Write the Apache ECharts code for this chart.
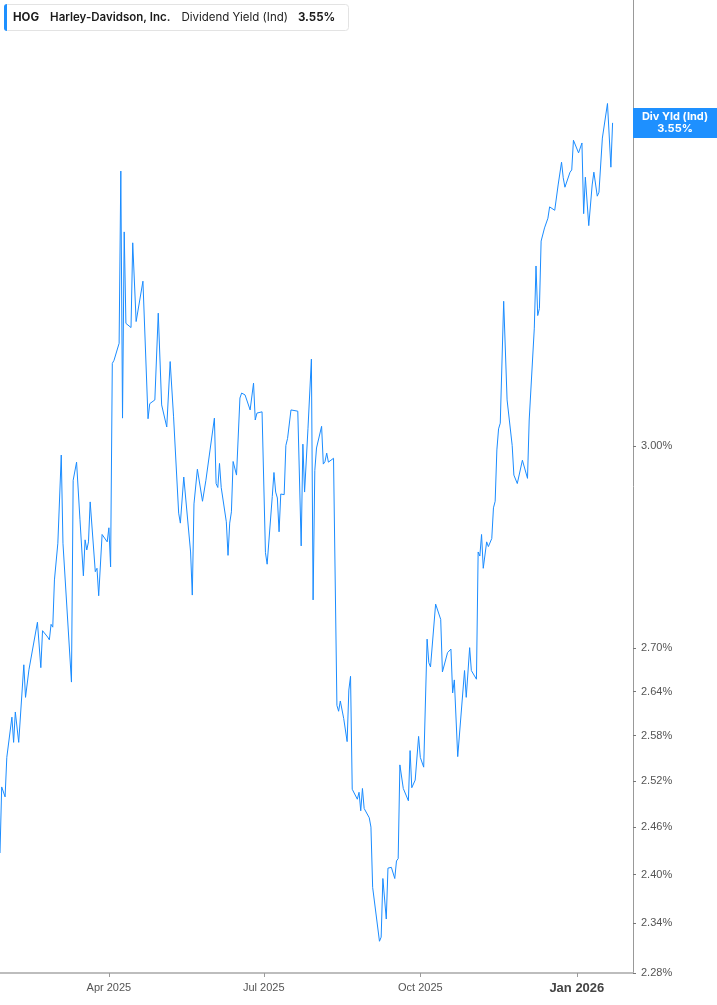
<!DOCTYPE html>
<html>
<head>
<meta charset="utf-8">
<script src="https://cdn.jsdelivr.net/npm/echarts@6/dist/echarts.min.js"></script>
<style>
html,body{margin:0;padding:0;background:#fff;}
#chart{width:717px;height:1005px;}
</style>
</head>
<body>
<div id="chart"></div>
<script>
const ticker = 'HOG';
const company = 'Harley-Davidson, Inc.';
const metric = 'Dividend Yield (Ind)';
const shortMetric = 'Div Yld (Ind)';

const dates = [
'2025-01-27','2025-01-28','2025-01-30','2025-01-31','2025-02-03','2025-02-04','2025-02-05','2025-02-07','2025-02-10','2025-02-11','2025-02-13','2025-02-18','2025-02-20','2025-02-21','2025-02-24','2025-02-25','2025-02-26','2025-02-27','2025-02-28','2025-03-02','2025-03-04','2025-03-05','2025-03-10','2025-03-11','2025-03-13','2025-03-15','2025-03-17','2025-03-18','2025-03-19','2025-03-20','2025-03-21','2025-03-24','2025-03-25','2025-03-26','2025-03-28','2025-03-31',
'2025-04-01','2025-04-02','2025-04-03','2025-04-04','2025-04-07','2025-04-08','2025-04-09','2025-04-10','2025-04-11','2025-04-14','2025-04-15','2025-04-17','2025-04-21','2025-04-24','2025-04-25','2025-04-28','2025-04-30',
'2025-05-02','2025-05-05','2025-05-07','2025-05-09','2025-05-12','2025-05-13','2025-05-15','2025-05-19','2025-05-20','2025-05-21','2025-05-22','2025-05-23','2025-05-26','2025-05-28',
'2025-06-02','2025-06-03','2025-06-04','2025-06-05','2025-06-06','2025-06-09','2025-06-10','2025-06-11','2025-06-12','2025-06-13','2025-06-15','2025-06-17','2025-06-18','2025-06-20','2025-06-23','2025-06-25','2025-06-26','2025-06-27','2025-06-30',
'2025-07-02','2025-07-03','2025-07-06','2025-07-07','2025-07-08','2025-07-09','2025-07-10','2025-07-11','2025-07-13','2025-07-14','2025-07-15','2025-07-17','2025-07-18','2025-07-21','2025-07-23','2025-07-24','2025-07-25','2025-07-27','2025-07-29','2025-07-30','2025-07-31',
'2025-08-01','2025-08-04','2025-08-05','2025-08-06','2025-08-07','2025-08-08','2025-08-11','2025-08-13','2025-08-14','2025-08-15','2025-08-17','2025-08-19','2025-08-20','2025-08-21','2025-08-22','2025-08-25','2025-08-26','2025-08-27','2025-08-28','2025-08-29',
'2025-09-01','2025-09-02','2025-09-03','2025-09-04','2025-09-07','2025-09-08','2025-09-09','2025-09-11','2025-09-12','2025-09-14','2025-09-16','2025-09-17','2025-09-18','2025-09-19','2025-09-21','2025-09-24','2025-09-25','2025-09-26','2025-09-28','2025-09-30',
'2025-10-01','2025-10-02','2025-10-03','2025-10-05','2025-10-06','2025-10-07','2025-10-10','2025-10-13','2025-10-14','2025-10-17','2025-10-19','2025-10-20','2025-10-21','2025-10-23','2025-10-27','2025-10-28','2025-10-30','2025-10-31',
'2025-11-03','2025-11-04','2025-11-05','2025-11-06','2025-11-07','2025-11-09','2025-11-10','2025-11-12','2025-11-13','2025-11-14','2025-11-15','2025-11-16','2025-11-17','2025-11-19','2025-11-21','2025-11-24','2025-11-25','2025-11-27','2025-11-30',
'2025-12-01','2025-12-03','2025-12-04','2025-12-07','2025-12-08','2025-12-09','2025-12-10','2025-12-11','2025-12-13','2025-12-15','2025-12-16','2025-12-17','2025-12-19','2025-12-21','2025-12-23','2025-12-24','2025-12-25','2025-12-28','2025-12-29','2025-12-30',
'2026-01-02','2026-01-04','2026-01-05','2026-01-06','2026-01-08','2026-01-10','2026-01-11','2026-01-13','2026-01-14','2026-01-15','2026-01-16','2026-01-19','2026-01-21','2026-01-22'
];

const yieldPct = [
2.427,2.512,2.499,2.551,2.605,2.571,2.612,2.571,2.677,2.632,2.670,2.737,2.673,2.725,2.716,2.712,2.734,2.730,2.798,2.852,2.986,2.852,2.653,2.947,2.975,2.887,2.804,2.857,2.842,2.854,2.914,2.810,2.815,2.775,2.865,2.854,
2.875,2.817,3.132,3.137,3.165,3.462,3.044,3.354,3.198,3.191,3.335,3.201,3.269,3.043,3.067,3.073,3.215,
3.065,3.030,3.135,3.046,2.897,2.882,2.952,2.839,2.776,2.911,2.910,2.964,2.915,2.947,
3.044,2.942,2.936,2.973,2.936,2.884,2.834,2.882,2.899,2.976,2.955,3.076,3.084,3.081,3.057,3.100,3.041,3.052,3.054,
2.838,2.821,2.922,2.959,2.929,2.920,2.869,2.926,2.925,3.001,3.012,3.057,3.059,3.055,2.848,3.003,2.929,3.028,3.139,2.769,2.962,
2.997,3.031,2.972,2.976,2.989,2.975,2.981,2.621,2.613,2.627,2.603,2.572,2.642,2.661,2.509,2.496,2.505,2.481,2.510,2.484,
2.472,2.460,2.384,2.383,2.318,2.323,2.395,2.345,2.408,2.409,2.395,2.417,2.420,2.541,2.510,2.494,2.560,2.511,2.521,2.579,
2.551,2.550,2.538,2.713,2.680,2.674,2.763,2.741,2.667,2.694,2.699,2.638,2.656,2.552,2.669,2.632,2.701,2.669,
2.657,2.839,2.833,2.865,2.815,2.854,2.847,2.859,2.905,2.915,2.994,3.027,3.036,3.235,3.073,3.001,2.955,2.942,2.978,
2.975,2.950,3.041,3.190,3.295,3.211,3.223,3.338,3.361,3.378,3.398,3.396,3.392,3.437,3.478,3.450,3.433,3.460,3.464,3.518,
3.495,3.513,3.386,3.451,3.365,3.437,3.460,3.417,3.424,3.423,3.522,3.586,3.469,3.55
];

const yTicks = [2.28, 2.34, 2.40, 2.46, 2.52, 2.58, 2.64, 2.70, 3.00];
const yRange = [2.28, 3.7846];
const xTickDates = ['2025-04-01', '2025-07-01', '2025-10-01', '2026-01-01'];
const xRange = ['2025-01-27', '2026-02-03'];
const monthNames = ['Jan','Feb','Mar','Apr','May','Jun','Jul','Aug','Sep','Oct','Nov','Dec'];

function toTs(s) {
  const p = s.split('-').map(Number);
  return new Date(p[0], p[1] - 1, p[2]).getTime();
}

const lastVal = yieldPct[yieldPct.length - 1];
const seriesData = dates.map((d, i) => [toTs(d), Math.log(yieldPct[i])]);
const xTickTs = xTickDates.map(toTs);
const yTickLog = yTicks.map(v => Math.log(v));
const axisFont = "'Liberation Sans', Arial, sans-serif";
const headFont = "Inter, 'Noto Sans', sans-serif";

const chart = echarts.init(document.getElementById('chart'), null, {renderer: 'canvas'});
chart.setOption({
  animation: false,
  backgroundColor: '#ffffff',
  title: {
    left: 4,
    top: 4,
    padding: [7, 14, 7, 9],
    backgroundColor: '#ffffff',
    borderColor: '#e3e3e3',
    borderWidth: 1,
    borderRadius: 3,
    text: '{h|' + ticker + '}{n|' + company + '}{d|' + metric + '}{v|' + lastVal.toFixed(2) + '%}',
    textStyle: {
      rich: {
        h: {fontFamily: headFont, fontSize: 11.5, fontWeight: 700, color: '#1b1b1b', padding: [0, 11, 0, 0], lineHeight: 13},
        n: {fontFamily: headFont, fontSize: 11.5, fontWeight: 600, color: '#1b1b1b', padding: [0, 11, 0, 0], lineHeight: 13},
        d: {fontFamily: headFont, fontSize: 11.5, fontWeight: 400, color: '#222', padding: [0, 10, 0, 0], lineHeight: 13},
        v: {fontFamily: headFont, fontSize: 11.5, fontWeight: 700, color: '#1b1b1b', lineHeight: 13}
      }
    }
  },
  graphic: [{
    type: 'rect',
    left: 4,
    top: 4,
    z: 100,
    shape: {width: 3, height: 27, r: [3, 0, 0, 3]},
    style: {fill: '#1e90ff'}
  }],
  grid: {left: 0, right: 84, top: 0, bottom: 32, containLabel: false},
  xAxis: {
    type: 'value',
    min: toTs(xRange[0]),
    max: toTs(xRange[1]),
    axisLine: {show: true, onZero: false, lineStyle: {color: '#bdbdbd', width: 2}},
    axisTick: {show: true, customValues: xTickTs, length: 4, lineStyle: {color: '#9a9a9a', width: 1}},
    axisLabel: {
      customValues: xTickTs,
      margin: 9,
      color: '#555',
      fontSize: 11,
      fontFamily: axisFont,
      formatter: function (v) {
        const d = new Date(v);
        const s = monthNames[d.getMonth()] + ' ' + d.getFullYear();
        return d.getMonth() === 0 ? '{b|' + s + '}' : s;
      },
      rich: {b: {fontWeight: 'bold', fontSize: 13, color: '#444', fontFamily: axisFont}}
    },
    splitLine: {show: false}
  },
  yAxis: {
    type: 'value',
    position: 'right',
    min: Math.log(yRange[0]),
    max: Math.log(yRange[1]),
    axisLine: {show: true, lineStyle: {color: '#999', width: 1}},
    axisTick: {show: true, customValues: yTickLog, length: 3, lineStyle: {color: '#777'}},
    axisLabel: {
      customValues: yTickLog,
      margin: 8,
      color: '#555',
      fontSize: 11,
      fontFamily: axisFont,
      formatter: function (v) { return Math.exp(v).toFixed(2) + '%'; }
    },
    splitLine: {show: false}
  },
  series: [{
    type: 'line',
    name: metric,
    data: seriesData,
    showSymbol: false,
    symbol: 'none',
    smooth: false,
    clip: false,
    lineStyle: {color: '#1a8cff', width: 1},
    markLine: {
      silent: true,
      animation: false,
      symbol: ['none', 'none'],
      lineStyle: {color: 'rgba(0,0,0,0)', width: 1, type: 'solid'},
      emphasis: {disabled: true},
      data: [{yAxis: Math.log(lastVal)}],
      label: {
        show: true,
        position: 'end',
        distance: 0,
        offset: [0, 6],
        width: 84,
        padding: [3, 0, 3, 0],
        backgroundColor: '#1e90ff',
        formatter: '{a|' + shortMetric + '}\n{a|' + lastVal.toFixed(2) + '%}',
        rich: {
          a: {align: 'center', color: '#fff', fontWeight: 'bold', fontSize: 11, lineHeight: 12, fontFamily: headFont}
        }
      }
    }
  }]
});
</script>
</body>
</html>
